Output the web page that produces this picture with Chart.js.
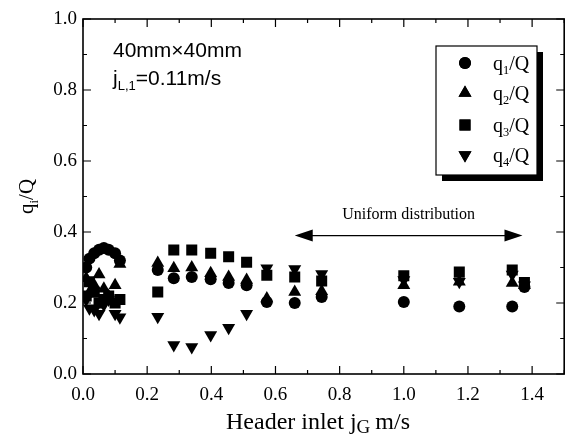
<!DOCTYPE html>
<html>
<head>
<meta charset="utf-8">
<script src="https://cdn.jsdelivr.net/npm/chart.js@4"></script>
<style>
  html, body { margin: 0; padding: 0; background: #fff; }
  #wrap { width: 572px; height: 437px; }
</style>
</head>
<body>
<div id="wrap"><canvas id="myChart" width="572" height="437"></canvas></div>
<script>
// header inlet gas velocity jG (m/s) for each measured column
const jG = [0.01, 0.02, 0.035, 0.05, 0.065, 0.08, 0.1, 0.115,
  0.233, 0.283, 0.339, 0.398, 0.454, 0.51, 0.573, 0.66, 0.744,
  1.0, 1.173, 1.338, 1.376];
// flow fraction per branch
const q1 = [0.30, 0.325, 0.34, 0.35, 0.355, 0.35, 0.34, 0.32,
  0.293, 0.27, 0.273, 0.267, 0.256, 0.25, 0.203, 0.2, 0.217,
  0.203, 0.19, 0.19, 0.245];
const q2 = [0.27, 0.23, 0.25, 0.28, 0.24, 0.22, 0.25, 0.31,
  0.313, 0.298, 0.30, 0.284, 0.273, 0.265, 0.213, 0.231, 0.233,
  0.25, 0.26, 0.256, 0.25];
const q3 = [0.22, 0.26, 0.23, 0.2, 0.21, 0.22, 0.2, 0.21,
  0.231, 0.349, 0.349, 0.34, 0.33, 0.315, 0.278, 0.273, 0.262,
  0.277, 0.287, 0.293, 0.258];
const q4 = [0.21, 0.185, 0.18, 0.17, 0.195, 0.21, 0.17, 0.16,
  0.161, 0.082, 0.076, 0.11, 0.13, 0.17, 0.298, 0.296, 0.282,
  0.265, 0.26, 0.28, 0.25];

const seriesNames = ["q1/Q", "q2/Q", "q3/Q", "q4/Q"];
const xTicks = [0, 0.2, 0.4, 0.6, 0.8, 1.0, 1.2, 1.4];
const yTicks = [0, 0.2, 0.4, 0.6, 0.8, 1.0];
const arrowRange = [0.66, 1.37];
const arrowLevel = 0.39;

const serif = "'Liberation Serif', 'Times New Roman', serif";
const sans = "'Liberation Sans', Arial, sans-serif";

function pts(ys) {
  return jG.map((x, i) => ({x: x, y: ys[i]}));
}

const styles = [
  {pointStyle: 'circle', pointRadius: 6, pointRotation: 0},
  {pointStyle: 'triangle', pointRadius: 7.5, pointRotation: 0},
  {pointStyle: 'rect', pointRadius: 7.8, pointRotation: 0},
  {pointStyle: 'triangle', pointRadius: 7.5, pointRotation: 180}
];

const datasets = [q1, q2, q3, q4].map((ys, i) => Object.assign({
  label: seriesNames[i],
  data: pts(ys),
  backgroundColor: '#000',
  borderColor: '#000',
  borderWidth: 0,
  showLine: false
}, styles[i]));

// text with a subscript part, drawn left to right
function subText(ctx, parts, x, y, size, font) {
  parts.forEach(p => {
    let s = p.sub ? size * 0.62 : size;
    ctx.font = s + 'px ' + font;
    ctx.fillText(p.t, x, y + (p.sub ? size * 0.22 : 0));
    x += ctx.measureText(p.t).width;
  });
  return x;
}
function subWidth(ctx, parts, size, font) {
  let w = 0;
  parts.forEach(p => {
    ctx.font = (p.sub ? size * 0.62 : size) + 'px ' + font;
    w += ctx.measureText(p.t).width;
  });
  return w;
}

const decor = {
  id: 'decor',
  afterDraw(chart) {
    const ctx = chart.ctx;
    const a = chart.chartArea;
    const xs = chart.scales.x, ys = chart.scales.y;
    ctx.save();
    ctx.strokeStyle = '#000';
    ctx.fillStyle = '#000';
    ctx.lineWidth = 1.6;
    ctx.strokeRect(a.left, a.top, a.right - a.left, a.bottom - a.top);

    // inward ticks on all four sides
    ctx.lineWidth = 1.2;
    ctx.beginPath();
    for (let v = 0; v <= 1.5001; v += 0.1) {
      let px = xs.getPixelForValue(v);
      let len = Math.abs(v * 5 - Math.round(v * 5)) < 1e-6 ? 8 : 4;
      ctx.moveTo(px, a.bottom); ctx.lineTo(px, a.bottom - len);
      ctx.moveTo(px, a.top); ctx.lineTo(px, a.top + len);
    }
    for (let v = 0; v <= 1.0001; v += 0.1) {
      let py = ys.getPixelForValue(v);
      let len = Math.abs(v * 5 - Math.round(v * 5)) < 1e-6 ? 8 : 4;
      ctx.moveTo(a.left, py); ctx.lineTo(a.left + len, py);
      ctx.moveTo(a.right, py); ctx.lineTo(a.right - len, py);
    }
    ctx.stroke();

    // annotation text
    ctx.textBaseline = 'alphabetic';
    ctx.textAlign = 'left';
    ctx.font = '21px ' + sans;
    ctx.fillText('40mm\u00d740mm', 113, 57);
    subText(ctx, [{t: 'j'}, {t: 'L,1', sub: true}, {t: '=0.11m/s'}], 113, 85, 21, sans);

    // uniform distribution arrow
    let x0 = xs.getPixelForValue(arrowRange[0]);
    let x1 = xs.getPixelForValue(arrowRange[1]);
    let ay = ys.getPixelForValue(arrowLevel);
    ctx.lineWidth = 1.3;
    ctx.beginPath();
    ctx.moveTo(x0 + 10, ay); ctx.lineTo(x1 - 10, ay);
    ctx.stroke();
    ctx.beginPath();
    ctx.moveTo(x0, ay); ctx.lineTo(x0 + 18, ay - 6); ctx.lineTo(x0 + 18, ay + 6); ctx.closePath();
    ctx.moveTo(x1, ay); ctx.lineTo(x1 - 18, ay - 6); ctx.lineTo(x1 - 18, ay + 6); ctx.closePath();
    ctx.fill();
    ctx.font = '16px ' + serif;
    ctx.textAlign = 'center';
    ctx.fillText('Uniform distribution', (x0 + x1) / 2, ay - 17);

    // legend box with shadow
    let lx = 436, ly = 46, lw = 101, lh = 129;
    ctx.fillRect(lx + 6, ly + 6, lw, lh);
    ctx.fillStyle = '#fff';
    ctx.fillRect(lx, ly, lw, lh);
    ctx.strokeStyle = '#000';
    ctx.lineWidth = 1.2;
    ctx.strokeRect(lx, ly, lw, lh);
    ctx.fillStyle = '#000';
    ctx.textAlign = 'left';
    const rows = [63, 93, 125, 155];
    chart.data.datasets.forEach((ds, i) => {
      Chart.helpers.drawPoint(ctx, {
        pointStyle: ds.pointStyle,
        rotation: ds.pointRotation,
        radius: ds.pointRadius,
        borderWidth: 0
      }, 465, rows[i]);
      ctx.fill();
      subText(ctx, [{t: 'q'}, {t: String(i + 1), sub: true}, {t: '/Q'}], 493, rows[i] + 7, 20, serif);
    });

    // axis titles
    ctx.fillStyle = '#000';
    ctx.textAlign = 'left';
    ctx.font = '24px ' + serif;
    let w1 = ctx.measureText('Header inlet j').width;
    let w3 = ctx.measureText('m/s').width;
    ctx.font = '19px ' + serif;
    let w2 = ctx.measureText('G').width + 5;
    let tx = 318 - (w1 + w2 + w3) / 2;
    ctx.font = '24px ' + serif;
    ctx.fillText('Header inlet j', tx, 429);
    ctx.font = '19px ' + serif;
    ctx.fillText('G', tx + w1, 433);
    ctx.font = '24px ' + serif;
    ctx.fillText('m/s', tx + w1 + w2, 429);

    ctx.save();
    ctx.translate(33, (a.top + a.bottom) / 2);
    ctx.rotate(-Math.PI / 2);
    const yt = [{t: 'q'}, {t: 'i', sub: true}, {t: '/Q'}];
    let yw = subWidth(ctx, yt, 21, serif);
    subText(ctx, yt, -yw / 2, 0, 21, serif);
    ctx.restore();

    ctx.restore();
  }
};

new Chart('myChart', {
  type: 'scatter',
  data: {datasets: datasets},
  plugins: [decor],
  options: {
    responsive: false,
    animation: false,
    layout: {padding: {left: 0, right: 7, top: 19, bottom: 0}},
    plugins: {legend: {display: false}, tooltip: {enabled: false}},
    scales: {
      x: {
        type: 'linear',
        min: 0, max: 1.5,
        afterFit: s => { s.height = 63; },
        afterBuildTicks: s => { s.ticks = xTicks.map(v => ({value: v})); },
        grid: {display: false, drawTicks: false},
        border: {display: false},
        ticks: {
          color: '#000',
          padding: 10,
          maxRotation: 0,
          font: {family: serif, size: 19},
          callback: v => v.toFixed(1)
        }
      },
      y: {
        type: 'linear',
        min: 0, max: 1.0,
        afterFit: s => { s.width = 83; },
        afterBuildTicks: s => { s.ticks = yTicks.map(v => ({value: v})); },
        grid: {display: false, drawTicks: false},
        border: {display: false},
        ticks: {
          color: '#000',
          padding: 6,
          font: {family: serif, size: 19},
          callback: v => v.toFixed(1)
        }
      }
    }
  }
});
</script>
</body>
</html>
